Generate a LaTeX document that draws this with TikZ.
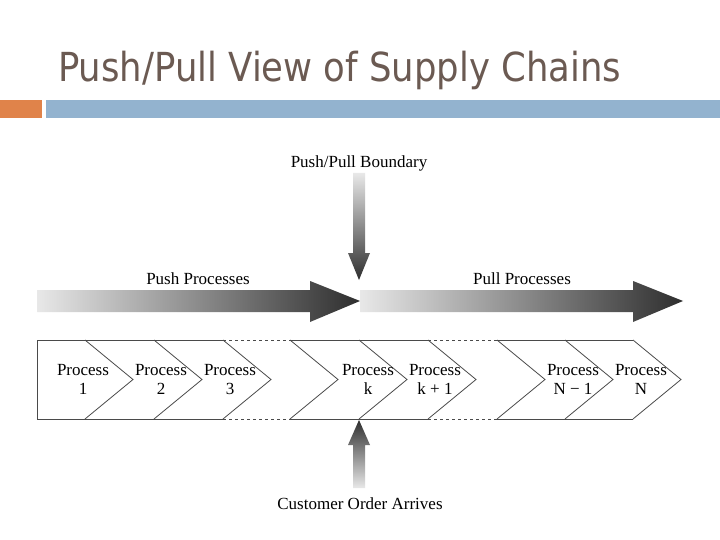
\documentclass[tikz,border=0pt]{standalone}
\usepackage{fontspec}
\setmainfont{Liberation Serif}
\newfontfamily\titlefont{DejaVu Sans}
\usepackage{xcolor}
\definecolor{titlegray}{HTML}{6B5A52}
\definecolor{barorange}{HTML}{E0834A}
\definecolor{barblue}{HTML}{93B3CF}
\definecolor{shadelight}{HTML}{E8E8E8}
\definecolor{shadedark}{HTML}{2E2E2E}
\definecolor{chainline}{HTML}{4A4A4A}
\usepackage{tikz}
\usetikzlibrary{calc}

\begin{document}
\begin{tikzpicture}[x=1pt, y=-1pt,
    flowlabel/.style={font=\fontsize{17}{19}\selectfont, text=black, inner sep=0pt, anchor=base},
    proc/.style={font=\fontsize{17}{19}\selectfont, text=black, align=center, inner sep=0pt, anchor=north},
    chain/.style={draw=chainline, line width=0.8pt},
    gap/.style={chain, dash pattern=on 3pt off 3pt}
  ]
    \useasboundingbox (0,0) rectangle (720,540);
    \fill[white] (0,0) rectangle (720,540);

    \node[anchor=base west, text=titlegray, inner sep=0pt] (title) at (58,82) {\resizebox{563pt}{\height}{\titlefont\fontsize{40}{48}\selectfont Push/Pull View of Supply Chains}};
    \fill[barorange] (0,100) rectangle (42,118);
    \fill[barblue] (46,100) rectangle (720,118);

    \node[flowlabel] (boundary) at (359,168) {Push/Pull Boundary};
    \node[flowlabel] (push) at (198,284) {Push Processes};
    \node[flowlabel] (pull) at (522,284) {Pull Processes};
    \node[flowlabel] (order) at (360,509) {Customer Order Arrives};

    \shade[top color=shadelight, bottom color=shadedark] (353,173) -- (365,173) -- (365,253) -- (370,253) -- (359,280) -- (348,253) -- (353,253) -- cycle;
    \shade[left color=shadelight, right color=shadedark] (37,290) -- (310,290) -- (310,281) -- (360,301) -- (310,322) -- (310,312) -- (37,312) -- cycle;
    \shade[left color=shadelight, right color=shadedark] (360,290) -- (633,290) -- (633,281) -- (683,301) -- (633,322) -- (633,312) -- (360,312) -- cycle;
    \shade[top color=shadedark, bottom color=shadelight] (359,420) -- (370,445) -- (365,445) -- (365,488) -- (353,488) -- (353,445) -- (348,445) -- cycle;

    \draw[chain] (223,340) -- (37,340) -- (37,419) -- (223,419);
    \draw[gap] (223,340) -- (290,340);
    \draw[gap] (223,419) -- (290,419);
    \draw[chain] (290,340) -- (428,340);
    \draw[chain] (290,419) -- (428,419);
    \draw[gap] (428,340) -- (497,340);
    \draw[gap] (428,419) -- (497,419);
    \draw[chain] (497,340) -- (633,340);
    \draw[chain] (497,419) -- (633,419);

    \draw[chain] (85,340) -- ++(48,39.5) -- ++(-48,39.5);
    \draw[chain] (154,340) -- ++(48,39.5) -- ++(-48,39.5);
    \draw[chain] (223,340) -- ++(48,39.5) -- ++(-48,39.5);
    \draw[chain] (290,340) -- ++(48,39.5) -- ++(-48,39.5);
    \draw[chain] (359,340) -- ++(48,39.5) -- ++(-48,39.5);
    \draw[chain] (428,340) -- ++(48,39.5) -- ++(-48,39.5);
    \draw[chain] (497,340) -- ++(48,39.5) -- ++(-48,39.5);
    \draw[chain] (565,340) -- ++(48,39.5) -- ++(-48,39.5);
    \draw[chain] (633,340) -- ++(48,39.5) -- ++(-48,39.5);

    \node[proc] (p1) at (83,364) {Process\\1};
    \node[proc] (p2) at (161,364) {Process\\2};
    \node[proc] (p3) at (230,364) {Process\\3};
    \node[proc] (pk) at (368,364) {Process\\k};
    \node[proc] (pk1) at (435,364) {Process\\k + 1};
    \node[proc] (pn1) at (573,364) {Process\\N − 1};
    \node[proc] (pn) at (641,364) {Process\\N};
  \end{tikzpicture}
\end{document}
